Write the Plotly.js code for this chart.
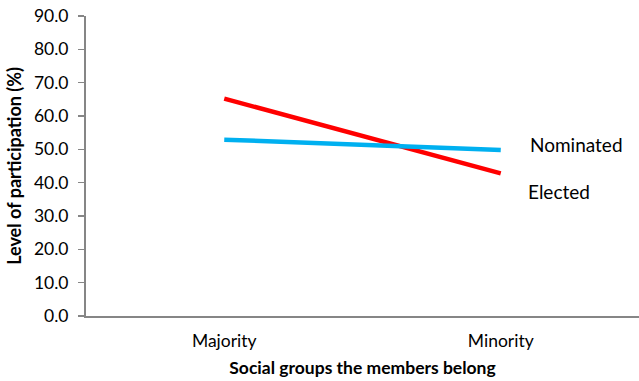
<!DOCTYPE html>
<html>
<head>
<meta charset="utf-8">
<script src="https://cdn.plot.ly/plotly-3.0.1.min.js"></script>
<style>html,body{margin:0;padding:0;background:#fff;}#chart{width:639px;height:381px;}</style>
</head>
<body>
<div id="chart"></div>
<script>
// Participation by social group
const groups = ["Majority", "Minority"];
const elected = [65.2, 42.8];
const nominated = [52.9, 49.8];
const seriesNames = ["Elected", "Nominated"];
const yTicks = [0, 10, 20, 30, 40, 50, 60, 70, 80, 90];

const font = "Lato, 'Open Sans', 'Liberation Sans', sans-serif";
const axisColor = "#868686";

const traces = [
  {x: groups, y: elected, name: seriesNames[0], mode: "lines",
   line: {color: "#ff0000", width: 4.5}},
  {x: groups, y: nominated, name: seriesNames[1], mode: "lines",
   line: {color: "#00b0f0", width: 4.5}}
];

const layout = {
  width: 639, height: 381,
  margin: {l: 86, r: 0, t: 16, b: 65},
  paper_bgcolor: "#fff", plot_bgcolor: "#fff",
  showlegend: false,
  font: {family: font, size: 17, color: "#000"},
  xaxis: {
    type: "category", range: [-0.5, 1.5],
    showline: true, linecolor: axisColor, linewidth: 2,
    ticks: "", showgrid: false, zeroline: false,
    tickfont: {size: 17.5}, ticklabelstandoff: 8,
    title: {text: "<b>Social groups the members belong</b>", font: {size: 17.5}, standoff: 12}
  },
  yaxis: {
    range: [0, 90], tickvals: yTicks,
    ticktext: yTicks.map(v => v.toFixed(1)),
    showline: true, linecolor: axisColor, linewidth: 2,
    ticks: "outside", ticklen: 6, tickcolor: axisColor, tickwidth: 1.5,
    ticklabelstandoff: 6,
    showgrid: false, zeroline: false,
    tickfont: {size: 17.5},
    title: {text: "<b>Level of participation (%)</b>", font: {size: 18}, standoff: 8}
  },
  annotations: [
    {x: 1, y: nominated[1], xref: "x", yref: "y", text: seriesNames[1],
     xanchor: "left", yanchor: "middle", xshift: 27, yshift: 6, showarrow: false,
     font: {size: 19}},
    {x: 1, y: elected[1], xref: "x", yref: "y", text: seriesNames[0],
     xanchor: "left", yanchor: "middle", xshift: 25, yshift: -18, showarrow: false,
     font: {size: 19}}
  ]
};

Plotly.newPlot("chart", traces, layout, {displayModeBar: false, staticPlot: true});
</script>
</body>
</html>
